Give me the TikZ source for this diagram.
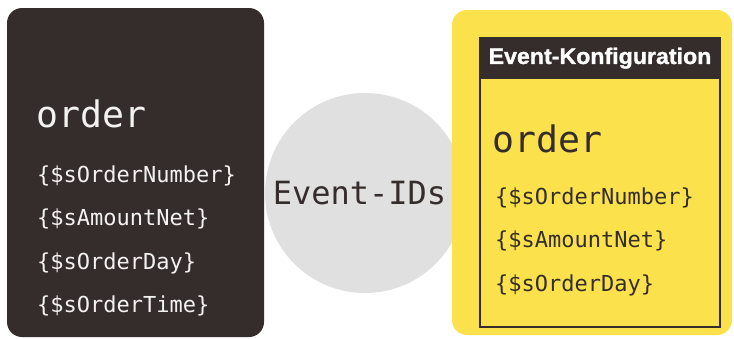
\documentclass[tikz,border=0pt]{standalone}
\usepackage{fontspec}
\setmonofont{DejaVu Sans Mono}
\newfontfamily\headfont[FakeBold=1.2]{Liberation Sans Bold}
\usepackage{graphicx}

\definecolor{darkbox}{HTML}{352D2B}
\definecolor{eventyellow}{HTML}{FBE14B}
\definecolor{idgray}{HTML}{E0E0E0}
\definecolor{lighttext}{HTML}{F4F2F1}

\tikzset{
    panel/.style={rounded corners=15pt, minimum width=#1},
    bigword/.style={anchor=base west, inner sep=0pt, font=\ttfamily\fontsize{36.5}{36.5}\selectfont},
    varline/.style={anchor=base west, inner sep=0pt, font=\ttfamily\fontsize{22}{22}\selectfont}
}

\begin{document}
\begin{tikzpicture}[x=1pt, y=-1pt]
        \useasboundingbox[fill=white] (0,0) rectangle (734,338);

        % Event-IDs Kreis
        \node[circle, fill=idgray, minimum size=200pt, inner sep=0pt] (ids) at (365,193) {};
        \node[text=darkbox, inner sep=0pt, font=\ttfamily\fontsize{32}{32}\selectfont] (idslabel) at (359.5,193) {Event-IDs};

        % Quelle: order mit Variablen
        \node[panel=257pt, fill=darkbox, minimum height=329pt] (source) at (135.5,172.5) {};
        \node[bigword, text=lighttext] (srcorder) at (36,127) {order};
        \node[varline, text=lighttext] (srcnum) at (37,182) {\{\$sOrderNumber\}};
        \node[varline, text=lighttext] (srcamount) at (37,225.5) {\{\$sAmountNet\}};
        \node[varline, text=lighttext] (srcday) at (37,269) {\{\$sOrderDay\}};
        \node[varline, text=lighttext] (srctime) at (37,312) {\{\$sOrderTime\}};

        % Ziel: Event-Konfiguration
        \node[panel=280pt, fill=eventyellow, minimum height=325pt] (target) at (592,172.5) {};
        \node[draw=darkbox, line width=2pt, minimum width=240pt, minimum height=289pt] (config) at (600,182.5) {};
        \node[fill=darkbox, minimum width=240pt, minimum height=42pt, anchor=north,
              text=white, font=\headfont\fontsize{22.5}{22.5}\selectfont] (confighead) at (config.north)
              {\scalebox{1.03}[1]{Event-Konfiguration}};
        \node[bigword, text=darkbox] (cfgorder) at (492,152) {order};
        \node[varline, text=darkbox] (cfgnum) at (495,204) {\{\$sOrderNumber\}};
        \node[varline, text=darkbox] (cfgamount) at (495,247.5) {\{\$sAmountNet\}};
        \node[varline, text=darkbox] (cfgday) at (495,291) {\{\$sOrderDay\}};
    \end{tikzpicture}
\end{document}
